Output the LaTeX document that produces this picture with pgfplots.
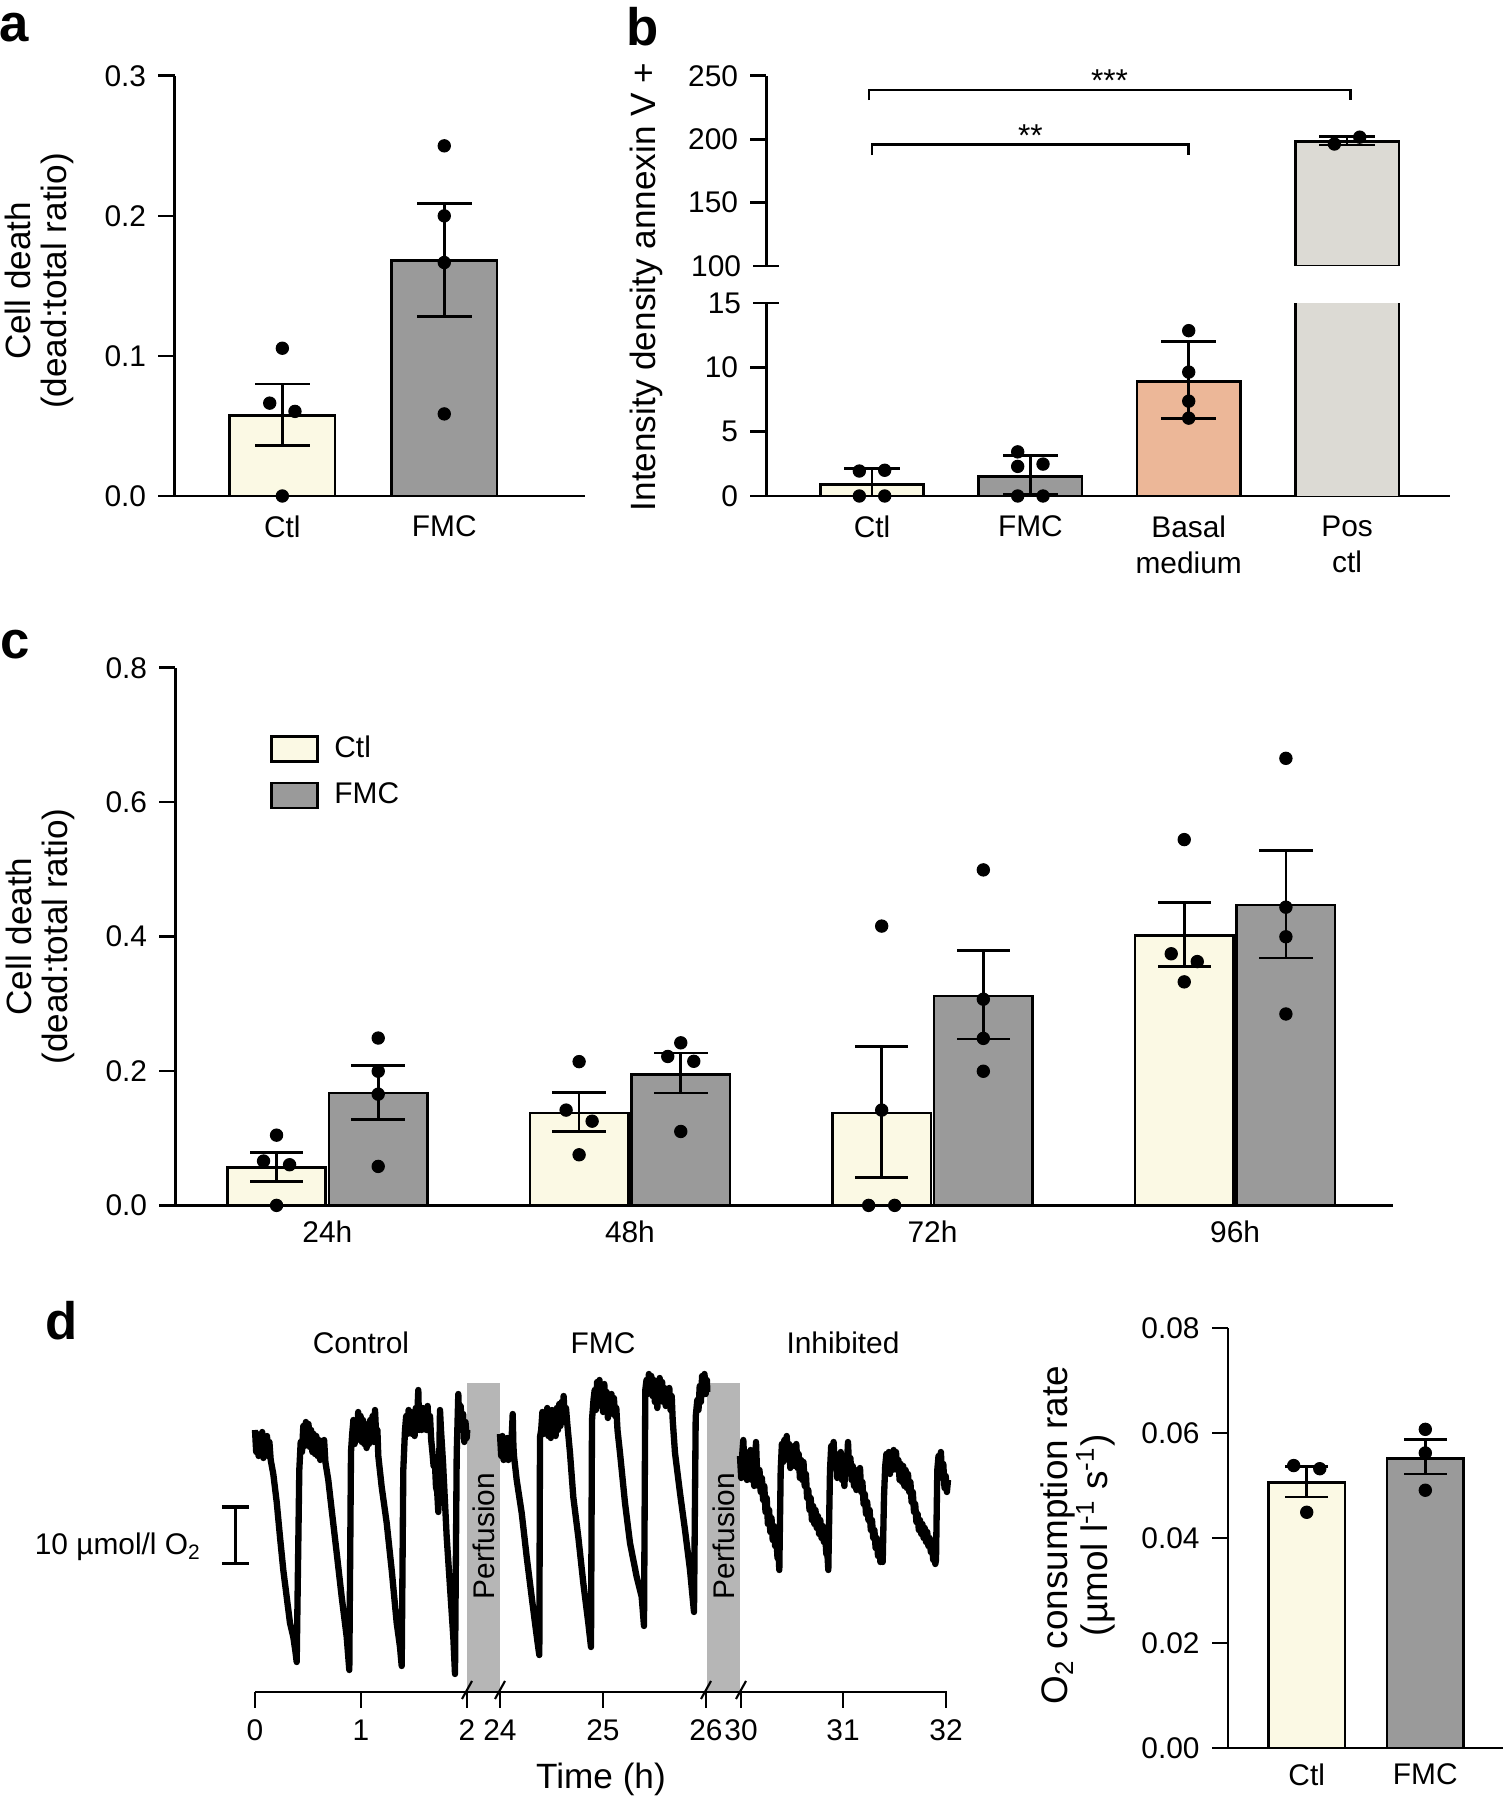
\documentclass[border=0pt]{standalone}
\usepackage{fontspec}
\setmainfont{Liberation Sans}
\usepackage{pgfplots}
\pgfplotsset{compat=1.18}
\definecolor{ctlc}{RGB}{251,249,228}
\definecolor{fmcc}{RGB}{154,154,154}
\definecolor{basalc}{RGB}{236,183,152}
\definecolor{posc}{RGB}{220,218,212}
\definecolor{bandc}{RGB}{182,182,182}
\newcommand{\tf}{\fontsize{8.5}{10.2}\selectfont}
\newcommand{\lf}{\fontsize{10}{10}\selectfont}
\pgfplotsset{
  barpanel/.style={
    scale only axis, anchor=south west,
    axis x line*=bottom, axis y line*=left,
    axis line style={line width=0.75pt, black},
    every tick/.style={black, line width=0.75pt},
    tick align=outside, major tick length=0.16cm,
    xtick style={draw=none},
    tick label style={font=\tf},
    xticklabel style={align=center, yshift=2.4pt},
    /pgf/number format/assume math mode=true,
    scaled y ticks=false,
    ylabel style={font=\lf, align=center, anchor=center},
    clip=false, unbounded coords=jump,
  },
  bars/.style={ybar, bar shift=0pt, draw=black, line width=0.75pt},
  errl/.style={black, line width=0.75pt, line cap=rect},
  dots/.style={only marks, mark=*, mark size=1.75pt, black, mark options={line width=0.3pt}},
}
\begin{document}
\begin{tikzpicture}
\useasboundingbox (0,0) rectangle (15.05,18);
% panel letters
\node[font=\bfseries\fontsize{15}{15}\selectfont] at (0.14,17.72) {a};
\node[font=\bfseries\fontsize{15}{15}\selectfont] at (6.43,17.73) {b};
\node[font=\bfseries\fontsize{15}{15}\selectfont] at (0.15,11.55) {c};
\node[font=\bfseries\fontsize{15}{15}\selectfont] at (0.62,4.79) {d};

% ---------------- panel a
\begin{axis}[barpanel, at={(1.745cm,13.04cm)}, width=4.105cm, height=4.202cm,
  xmin=-0.666, xmax=1.869, ymin=0, ymax=0.3,
  ytick={0,0.1,0.2,0.3}, yticklabels={0.0,0.1,0.2,0.3},
  xtick={0,1}, xticklabels={Ctl,FMC},
  ylabel={Cell death\\(dead:total ratio)},
  ylabel style={at={(axis description cs:-0.329,0.512)}}]
\addplot[bars, fill=ctlc, bar width=0.652] coordinates {(0,0.0574)};
\addplot[bars, fill=fmcc, bar width=0.652] coordinates {(1,0.168)};
\addplot[errl] coordinates {(0,0.0362) (0,0.080) (0,nan) (-0.161,0.080) (0.161,0.080) (0,nan) (-0.161,0.0362) (0.161,0.0362) (0,nan)
  (1,0.128) (1,0.209) (1,nan) (0.839,0.209) (1.161,0.209) (1,nan) (0.839,0.128) (1.161,0.128)};
\addplot[dots] coordinates {(0,0.1055) (-0.078,0.0663) (0.078,0.0604) (0,0) (1,0.250) (1,0.200) (1,0.1667) (1,0.0586)};
\end{axis}

% ---------------- panel b lower
\begin{axis}[barpanel, at={(7.664cm,13.04cm)}, width=6.836cm, height=1.93cm,
  xmin=-0.667, xmax=3.65, ymin=0, ymax=15,
  ytick={0,5,10}, extra y ticks={15}, extra y tick labels={15},
  extra y tick style={tick align=center, major tick length=0.26cm},
  xtick={0,1,2,3}, xticklabels={Ctl,FMC,{Basal\\medium},{Pos\\ctl}},
  ylabel={Intensity density annexin V +},
  ylabel style={at={(axis description cs:-0.176,1.083)}}]
\addplot[bars, fill=ctlc, bar width=0.654] coordinates {(0,0.89)};
\addplot[bars, fill=fmcc, bar width=0.654] coordinates {(1,1.52)};
\addplot[bars, fill=basalc, bar width=0.654] coordinates {(2,8.89)};
\addplot[ybar, bar shift=0pt, bar width=0.654, fill=posc, draw=none] coordinates {(3,15)};
\addplot[black, line width=0.75pt] coordinates {(2.673,0) (2.673,15)};
\addplot[black, line width=0.75pt] coordinates {(3.327,0) (3.327,15)};
\addplot[errl] coordinates {(0,0) (0,2.15) (0,nan) (-0.167,2.15) (0.167,2.15) (0,nan)
  (1,0) (1,3.13) (1,nan) (0.833,3.13) (1.167,3.13) (1,nan) (0.833,0.1) (1.167,0.1) (1,nan)
  (2,6.0) (2,12.0) (2,nan) (1.833,12.0) (2.167,12.0) (2,nan) (1.833,6.0) (2.167,6.0)};
\addplot[dots] coordinates {(-0.08,1.94) (0.08,2.0) (-0.08,0) (0.08,0)
  (0.92,3.43) (0.92,2.3) (1.08,2.48) (0.92,0) (1.08,0)
  (2,12.85) (2,9.63) (2,7.37) (2,6.05)};
\end{axis}

% ---------------- panel b upper
\begin{axis}[barpanel, at={(7.664cm,15.34cm)}, width=6.836cm, height=1.902cm,
  xmin=-0.667, xmax=3.65, ymin=100, ymax=250, axis x line=none,
  ytick={150,200,250}, extra y ticks={100}, extra y tick labels={100},
  extra y tick style={tick align=center, major tick length=0.26cm},
  clip=true, clip mode=individual]
\addplot[bars, fill=posc, bar width=0.654] coordinates {(3,198)};
\addplot[errl] coordinates {(3,195.3) (3,201.9) (3,nan) (2.833,201.9) (3.167,201.9) (3,nan) (2.833,195.3) (3.167,195.3)};
\addplot[dots] coordinates {(2.92,196.2) (3.08,201.6)};
\addplot[black, line width=0.75pt] coordinates {(-0.02,230.9) (-0.02,238.7) (3.02,238.7) (3.02,230.9)};
\addplot[black, line width=0.75pt] coordinates {(0,187.5) (0,195.7) (2,195.7) (2,187.5)};
\node[anchor=base, font=\fontsize{9}{9}\selectfont] at (axis cs:1.5,237.3) {***};
\node[anchor=base, font=\fontsize{9}{9}\selectfont] at (axis cs:1.0,194.3) {**};
\end{axis}

% ---------------- panel c
\begin{axis}[barpanel, at={(1.755cm,5.946cm)}, width=12.175cm, height=5.377cm,
  xmin=-0.502, xmax=3.522, ymin=0, ymax=0.8,
  ytick={0,0.2,0.4,0.6,0.8}, yticklabels={0.0,0.2,0.4,0.6,0.8},
  xtick={0,1,2,3}, xticklabels={24h,48h,72h,96h}, xticklabel style={yshift=1.2pt},
  ylabel={Cell death\\(dead:total ratio)},
  ylabel style={at={(axis description cs:-0.111,0.5)}},
  legend style={at={(axis description cs:0.077,0.888)}, anchor=north west, draw=none, fill=none, font=\tf, row sep=1.6pt, inner sep=0pt, column sep=2.5pt},
  legend cell align=left]
\addplot[bars, fill=ctlc, bar width=0.325,
  legend image code/.code={\draw[fill=ctlc,draw=black,line width=0.75pt] (0cm,-0.125cm) rectangle (0.46cm,0.125cm);}]
  coordinates {(-0.168,0.0561) (0.832,0.1374) (1.832,0.1374) (2.832,0.4019)};
\addplot[bars, fill=fmcc, bar width=0.325,
  legend image code/.code={\draw[fill=fmcc,draw=black,line width=0.75pt] (0cm,-0.125cm) rectangle (0.46cm,0.125cm);}]
  coordinates {(0.168,0.167) (1.168,0.1952) (2.168,0.3117) (3.168,0.447)};
\legend{Ctl,FMC}
\addplot[errl] coordinates {
  (-0.168,0.036) (-0.168,0.079) (0,nan) (-0.252,0.079) (-0.084,0.079) (0,nan) (-0.252,0.036) (-0.084,0.036) (0,nan)
  (0.832,0.110) (0.832,0.1677) (0,nan) (0.748,0.1677) (0.916,0.1677) (0,nan) (0.748,0.110) (0.916,0.110) (0,nan)
  (1.832,0.0412) (1.832,0.2364) (0,nan) (1.748,0.2364) (1.916,0.2364) (0,nan) (1.748,0.0412) (1.916,0.0412) (0,nan)
  (2.832,0.3551) (2.832,0.4508) (0,nan) (2.748,0.4508) (2.916,0.4508) (0,nan) (2.748,0.3551) (2.916,0.3551) (0,nan)
  (0.168,0.1275) (0.168,0.208) (0,nan) (0.084,0.208) (0.252,0.208) (0,nan) (0.084,0.1275) (0.252,0.1275) (0,nan)
  (1.168,0.1671) (1.168,0.2265) (0,nan) (1.084,0.2265) (1.252,0.2265) (0,nan) (1.084,0.1671) (1.252,0.1671) (0,nan)
  (2.168,0.2474) (2.168,0.3793) (0,nan) (2.084,0.3793) (2.252,0.3793) (0,nan) (2.084,0.2474) (2.252,0.2474) (0,nan)
  (3.168,0.3683) (3.168,0.5278) (0,nan) (3.084,0.5278) (3.252,0.5278) (0,nan) (3.084,0.3683) (3.252,0.3683)};
\addplot[dots] coordinates {
  (-0.168,0.1045) (-0.211,0.066) (-0.125,0.0605) (-0.168,0)
  (0.832,0.2139) (0.789,0.1418) (0.875,0.1253) (0.832,0.0753)
  (1.832,0.4156) (1.832,0.1418) (1.789,0) (1.875,0)
  (2.832,0.5443) (2.789,0.3744) (2.875,0.3628) (2.832,0.3326)
  (0.168,0.249) (0.168,0.1996) (0.168,0.1655) (0.168,0.058)
  (1.168,0.2419) (1.125,0.2216) (1.211,0.2144) (1.168,0.11)
  (2.168,0.4992) (2.168,0.3068) (2.168,0.2485) (2.168,0.1996)
  (3.168,0.6652) (3.168,0.4437) (3.168,0.3997) (3.168,0.2848)};
\end{axis}

% ---------------- panel d trace
\begin{axis}[scale only axis, anchor=south west, at={(2.55cm,1.08cm)}, width=6.92cm, height=3.09cm,
  xmin=255, xmax=947, ymin=0, ymax=309,
  axis x line*=bottom, axis y line=none,
  axis line style={line width=0.75pt, black},
  xtick={255,361,467,500,603,706,741,843,946}, xticklabels={0,1,2,24,25,26,30,31,32},
  tick align=outside, major tick length=0.157cm,
  every tick/.style={black, line width=0.75pt},
  tick label style={font=\tf},
  clip=false, axis on top]
\addplot[fill=bandc, draw=none] coordinates {(467,0) (500,0) (500,309) (467,309)};
\addplot[fill=bandc, draw=none] coordinates {(707,0) (740,0) (740,309) (707,309)};
\node[rotate=90, font=\tf] at (axis cs:483.5,156) {Perfusion};
\node[rotate=90, font=\tf] at (axis cs:723.5,156) {Perfusion};
\addplot[black, line width=0.6pt] coordinates {(462,-7) (472,11)};
\addplot[black, line width=0.6pt] coordinates {(495,-7) (505,11)};
\addplot[black, line width=0.6pt] coordinates {(701,-7) (711,11)};
\addplot[black, line width=0.6pt] coordinates {(736,-7) (746,11)};
\node[font=\tf] at (axis cs:361,349) {Control};
\node[font=\tf] at (axis cs:603,349) {FMC};
\node[font=\tf] at (axis cs:843,349) {Inhibited};
\node[font=\lf] at (axis cs:601,-87) {Time (h)};
% scale bar
\addplot[black, line width=0.9pt] coordinates {(235.3,128.4) (235.3,185)};
\addplot[black, line width=0.9pt] coordinates {(222,185) (249,185)};
\addplot[black, line width=0.9pt] coordinates {(222,128.4) (249,128.4)};
\node[anchor=east, font=\tf] at (axis cs:214,145) {10 µmol/l O\textsubscript{2}};
% trace: control
\addplot[black, line width=1.8pt, line join=round] coordinates {
(255.0,262) (256.2,240) (257.4,258) (258.6,236) (259.8,256) (261.0,240) (262.2,260) (263.4,234) (264.6,252) (265.8,238) (267.0,256) (268.2,236) (269.4,250) (270.7,232)
(273.3,218) (276.7,190) (280.0,155) (283.3,122) (286.7,95) (290.0,69) (293.3,55) (295.5,40) (296.7,30)
(299.3,222) (300.7,250) (302.0,240) (303.3,266) (304.6,246) (305.9,270) (307.2,250) (308.5,268) (309.8,245) (311.1,262) (312.4,240) (313.7,258) (315.0,238) (316.3,256) (317.6,236) (318.9,252) (320.2,232) (321.5,250) (322.8,236) (324.1,252) (325.4,230)
(328.3,212) (331.7,182) (336.7,139) (341.7,95) (346.7,55) (349.3,22)
(351.0,240) (352.2,258) (353.4,272) (354.6,248) (355.8,270) (357.0,252) (358.2,280) (359.4,255) (360.6,276) (361.8,250) (363.0,272) (364.2,248) (365.4,266) (366.6,244) (367.8,268) (369.0,248) (370.2,272) (371.4,252) (372.6,276) (373.8,250) (375.0,282) (376.2,256) (377.4,262) (378.3,236)
(381.7,205) (386.7,169) (391.7,122) (396.7,69) (400.0,45) (401.7,26)
(403.3,222) (405.0,262) (406.2,276) (407.4,258) (408.6,282) (409.8,262) (411.0,280) (412.2,258) (413.4,274) (414.6,256) (415.8,284) (417.0,270) (418.3,302) (419.2,262) (420.4,280) (421.6,262) (422.8,284) (424.0,266) (425.2,282) (426.4,262) (427.6,286) (428.8,262) (430.0,276) (431.2,252)
(432.4,240) (433.6,226) (434.8,232) (436.0,205) (437.2,200) (438.3,180) (439.2,230) (440.0,282) (441.0,262)
(443.0,230) (446.7,155) (450.0,105) (453.3,55) (455.0,18)
(456.7,238) (458.3,298) (459.5,262) (460.7,286) (461.9,262) (463.1,278) (464.3,250) (465.5,270) (466.7,254) (467.3,262)};
% trace: FMC
\addplot[black, line width=1.8pt, line join=round] coordinates {
(500.0,258) (501.2,236) (502.4,256) (503.6,232) (504.8,252) (506.0,234) (507.2,254) (508.4,232) (509.6,250) (510.8,238) (512.0,262) (512.7,278) (513.4,246) (514.0,236)
(516.7,212) (521.7,179) (526.7,135) (531.7,95) (535.0,69) (537.5,50) (539.3,37)
(540.0,255) (541.2,262) (542.4,280) (543.6,258) (544.8,278) (546.0,262) (547.2,284) (548.4,256) (549.6,276) (550.8,254) (552.0,282) (553.2,260) (554.4,280) (555.6,256) (556.8,284) (558.0,262) (559.2,288) (560.4,266) (561.6,290) (562.8,270) (563.6,296) (564.8,274) (566.0,284) (567.3,268)
(570.0,239) (573.3,195) (578.3,155) (583.3,109) (588.3,69) (591.0,45)
(592.0,272) (593.5,292) (594.7,302) (595.9,282) (597.1,310) (598.3,290) (599.5,312) (600.7,286) (601.9,304) (603.1,280) (604.3,308) (605.5,286) (606.7,300) (607.9,274) (609.1,296) (610.3,278) (611.5,298) (612.7,280) (613.9,294) (615.1,276) (616.3,284)
(617.5,262) (620.0,239) (625.0,189) (630.0,149) (636.7,115) (641.7,95) (644.0,66)
(645.3,302) (646.5,312) (647.7,298) (648.9,318) (650.1,300) (651.3,316) (652.5,296) (653.7,312) (654.9,290) (656.1,306) (657.3,284) (658.5,304) (659.7,314) (660.9,296) (662.1,310) (663.3,290) (664.5,304) (665.7,286) (666.9,300) (668.1,290) (669.3,304) (670.5,282) (671.7,296) (672.7,272)
(675.0,239) (680.0,199) (685.0,162) (690.0,122) (694.0,80)
(695.7,275) (697.3,292) (698.5,282) (699.7,306) (700.9,290) (702.1,316) (703.3,300) (704.5,318) (705.7,298) (706.9,312) (707.3,300)};
% trace: inhibited
\addplot[black, line width=1.8pt, line join=round] coordinates {
(740.0,236) (741.2,214) (742.4,240) (743.3,252) (744.6,222) (745.8,240) (747.0,212) (748.2,238) (749.4,220) (750.6,242) (751.8,212) (753.0,226) (754.2,206) (755.4,232) (756.0,250) (757.0,222) (758.3,206) (759.5,222) (760.7,200) (761.9,214) (763.1,192) (764.3,206) (765.5,180) (766.7,194) (767.9,168) (769.1,182) (770.3,160) (771.5,174) (772.7,152) (773.9,166) (775.1,146) (776.3,156) (777.5,134) (778.5,140) (779.3,122)
(780.7,222) (781.9,248) (783.1,230) (784.3,252) (785.5,236) (786.7,256) (787.9,232) (789.1,248) (790.3,224) (791.5,244) (792.7,226) (793.9,246) (795.1,226) (796.3,248) (797.5,224) (798.7,238) (799.9,214) (801.1,232) (802.3,212) (803.5,230) (804.7,206) (805.9,218) (807.1,194) (808.3,202) (809.5,182) (810.7,194) (811.9,172) (813.1,186) (814.3,168) (815.5,182) (816.7,164) (817.9,176) (819.1,158) (820.3,172) (821.5,154) (822.7,166) (823.9,150) (825.1,160) (826.3,138) (827.3,140) (828.3,122)
(830.0,222) (831.2,246) (832.4,226) (833.6,250) (834.8,224) (836.0,238) (837.2,214) (838.4,236) (839.6,218) (840.8,240) (842.0,212) (843.2,226) (844.4,206) (845.6,234) (846.8,224) (848.0,250) (849.2,222) (850.4,234) (851.6,212) (852.8,226) (854.0,206) (855.2,220) (856.4,202) (857.6,222) (858.8,206) (860.0,224) (861.2,200) (862.4,210) (863.6,188) (864.8,198) (866.0,178) (867.2,190) (868.4,172) (869.6,182) (870.8,162) (872.0,172) (873.2,154) (874.4,162) (875.6,144) (876.8,154) (878.0,136) (879.2,146) (880.4,130) (881.6,138) (882.7,130)
(884.0,195) (885.2,226) (886.4,238) (887.6,222) (888.8,240) (890.0,218) (891.2,238) (892.4,222) (893.6,242) (894.8,224) (896.0,240) (897.2,222) (898.4,232) (899.6,212) (900.8,228) (902.0,210) (903.2,226) (904.4,206) (905.6,222) (906.8,204) (908.0,218) (909.2,200) (910.4,210) (911.6,190) (912.8,200) (914.0,180) (915.2,188) (916.4,170) (917.6,178) (918.8,162) (920.0,172) (921.2,158) (922.4,168) (923.6,154) (924.8,164) (926.0,150) (927.2,160) (928.4,146) (929.6,154) (930.8,140) (932.0,148) (933.2,132) (934.4,140) (935.3,128) (936.0,132)
(937.3,222) (938.5,236) (939.7,224) (940.9,240) (942.1,214) (943.3,228) (944.5,204) (945.7,216) (946.9,200) (948.0,212)};
\end{axis}

% ---------------- panel d bars
\begin{axis}[barpanel, at={(12.28cm,0.52cm)}, width=2.75cm, height=4.2cm,
  xmin=-0.664, xmax=1.655, ymin=0, ymax=0.08,
  ytick={0,0.02,0.04,0.06,0.08}, yticklabels={0.00,0.02,0.04,0.06,0.08},
  xtick={0,1}, xticklabels={Ctl,FMC}, xticklabel style={yshift=1.1pt},
  ylabel={O\textsubscript{2} consumption rate\\(µmol l\textsuperscript{-1} s\textsuperscript{-1})},
  ylabel style={at={(axis description cs:-0.545,0.507)}, font=\fontsize{10.5}{11.5}\selectfont}]
\addplot[bars, fill=ctlc, bar width=0.647] coordinates {(0,0.0506)};
\addplot[bars, fill=fmcc, bar width=0.647] coordinates {(1,0.0552)};
\addplot[errl] coordinates {(0,0.0478) (0,0.0536) (0,nan) (-0.169,0.0536) (0.169,0.0536) (0,nan) (-0.169,0.0478) (0.169,0.0478) (0,nan)
  (1,0.0522) (1,0.0588) (1,nan) (0.831,0.0588) (1.169,0.0588) (1,nan) (0.831,0.0522) (1.169,0.0522)};
\addplot[dots] coordinates {(-0.11,0.0538) (0.11,0.0532) (0,0.0449) (1,0.0607) (1,0.0562) (1,0.0491)};
\end{axis}
\end{tikzpicture}
\end{document}
